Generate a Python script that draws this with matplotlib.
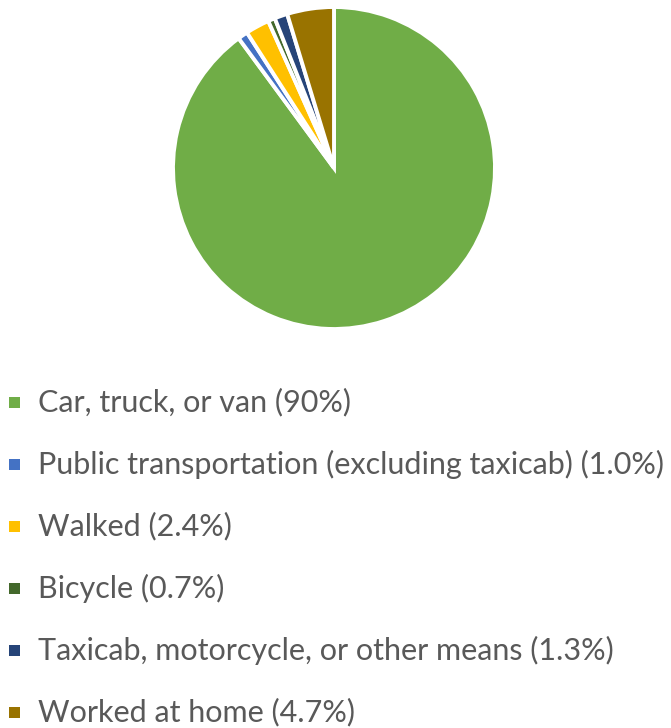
import matplotlib
matplotlib.use("Agg")
import matplotlib.pyplot as plt
from matplotlib.patches import Rectangle

categories = ["Car, truck, or van", "Public transportation (excluding taxicab)", "Walked",
              "Bicycle", "Taxicab, motorcycle, or other means", "Worked at home"]
values = [90, 1.0, 2.4, 0.7, 1.3, 4.7]
value_labels = ["90%", "1.0%", "2.4%", "0.7%", "1.3%", "4.7%"]
colors = ["#70AD47", "#4472C4", "#FFC000", "#43682B", "#264478", "#997300"]

W, H = 671, 728
fig = plt.figure(figsize=(W / 100, H / 100), dpi=100)

cx, cy, r = 334, 168, 161
ax = fig.add_axes([(cx - r) / W, (H - cy - r) / H, 2 * r / W, 2 * r / H])
ax.pie(values, colors=colors, startangle=90, counterclock=False, radius=1,
       wedgeprops=dict(edgecolor="white", linewidth=2.8))
ax.set_xlim(-1.0, 1.0)
ax.set_ylim(-1.0, 1.0)
ax.axis("off")

y0, dy = 402, 62
for i, (cat, lab, col) in enumerate(zip(categories, value_labels, colors)):
    y = y0 + dy * i
    fig.add_artist(Rectangle((9 / W, (H - y - 5.5) / H), 11 / W, 11 / H,
                             transform=fig.transFigure, facecolor=col, edgecolor="none"))
    fig.text(38 / W, (H - y) / H, f"{cat} ({lab})", fontsize=22, family="Lato",
             color="#595959", va="center", ha="left")

fig.savefig("out.png", dpi=100)
